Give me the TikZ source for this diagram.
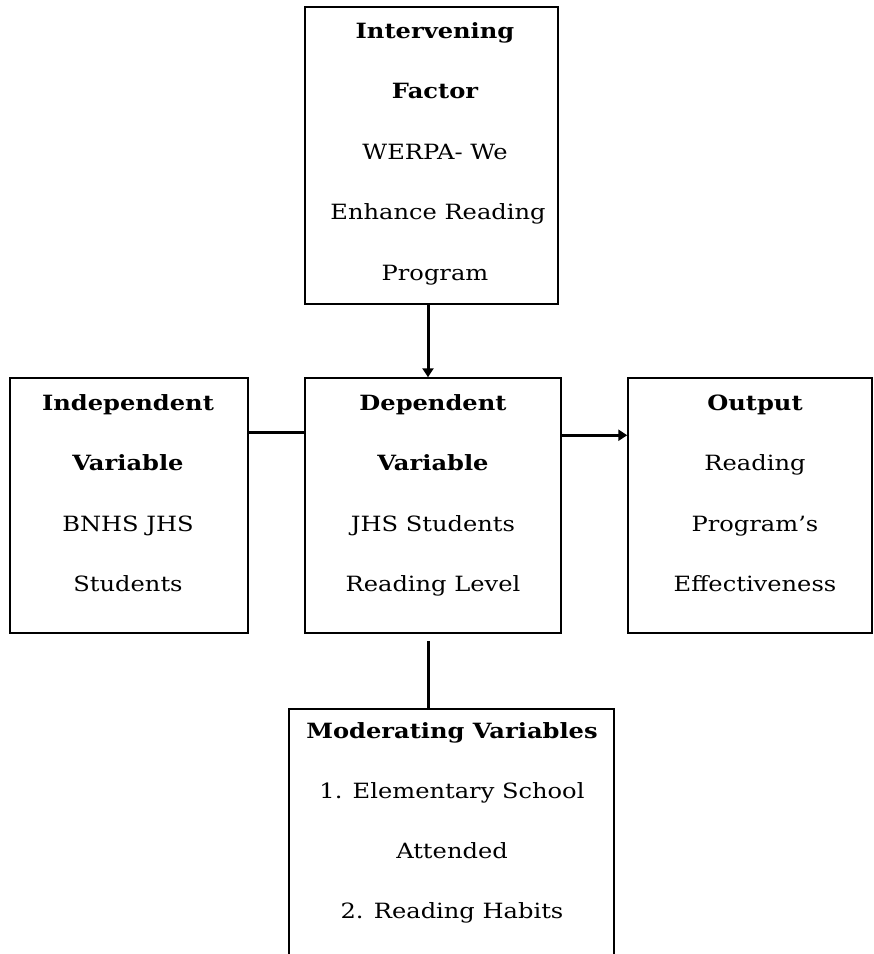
\documentclass[tikz,border=0pt]{standalone}
\usepackage{fontspec}
\setmainfont[FakeStretch=1.15]{DejaVu Serif}
\usetikzlibrary{arrows.meta}
\tikzset{
  box/.style={draw, line width=1.5pt, inner sep=0pt},
  lbl/.style={anchor=base, inner sep=0pt, font=\fontsize{21}{24}\selectfont},
  hd/.style={anchor=base, inner sep=0pt, font=\fontsize{21}{24}\selectfont\bfseries},
  conn/.style={line width=3pt},
  arr/.style={line width=3pt, -{Triangle[length=9pt,width=11pt]}}
}
\begin{document}
\begin{tikzpicture}[x=1pt,y=1pt]
\clip (0,0) rectangle (874,-954);
% boxes
\node[box, minimum width=253pt, minimum height=297pt] (iv)  at (431.5,-155.5) {};
\node[box, minimum width=238pt, minimum height=255pt] (ind) at (129,-505.5) {};
\node[box, minimum width=256pt, minimum height=255pt] (dep) at (433,-505.5) {};
\node[box, minimum width=244pt, minimum height=255pt] (out) at (750,-505.5) {};
\node[box, minimum width=325pt, minimum height=280pt, anchor=north] (mod) at (451.5,-708) {};
% intervening
\node[hd]  (iv1) at (435,-38)    {Intervening};
\node[hd]  (iv2) at (435,-98.5)  {Factor};
\node[lbl] (iv3) at (435,-159)   {WERPA- We};
\node[lbl] (iv4) at (438,-219.5) {Enhance Reading};
\node[lbl] (iv5) at (435,-280)   {Program};
% independent
\node[hd]  (in1) at (128,-410)   {Independent};
\node[hd]  (in2) at (128,-470.5) {Variable};
\node[lbl] (in3) at (128,-531)   {BNHS JHS};
\node[lbl] (in4) at (128,-591.5) {Students};
% dependent
\node[hd]  (de1) at (433,-410)   {Dependent};
\node[hd]  (de2) at (433,-470.5) {Variable};
\node[lbl] (de3) at (433,-531)   {JHS Students};
\node[lbl] (de4) at (433,-591.5) {Reading Level};
% output
\node[hd]  (ou1) at (755,-410)   {Output};
\node[lbl] (ou2) at (755,-470.5) {Reading};
\node[lbl] (ou3) at (755,-531)   {Program’s};
\node[lbl] (ou4) at (755,-591.5) {Effectiveness};
% moderating
\node[hd]  (mo1) at (452,-738)   {Moderating Variables};
\node[lbl] (mo2) at (452,-798)   {1. Elementary School};
\node[lbl] (mo3) at (452,-858)   {Attended};
\node[lbl] (mo4) at (452,-918)   {2. Reading Habits};
% connectors
\draw[arr] ([xshift=-3.5pt]iv.south) -- ([xshift=-5pt]dep.north);
\draw[conn] ([yshift=-55pt]ind.north east) -- ([yshift=-55pt]dep.north west);
\draw[arr] ([yshift=-58pt]dep.north east) -- ([yshift=-58pt]out.north west);
\coordinate (dc) at ([xshift=-5pt,yshift=-7pt]dep.south);
\draw[conn] (dc) -- (dc |- mod.north);
\end{tikzpicture}
\end{document}
